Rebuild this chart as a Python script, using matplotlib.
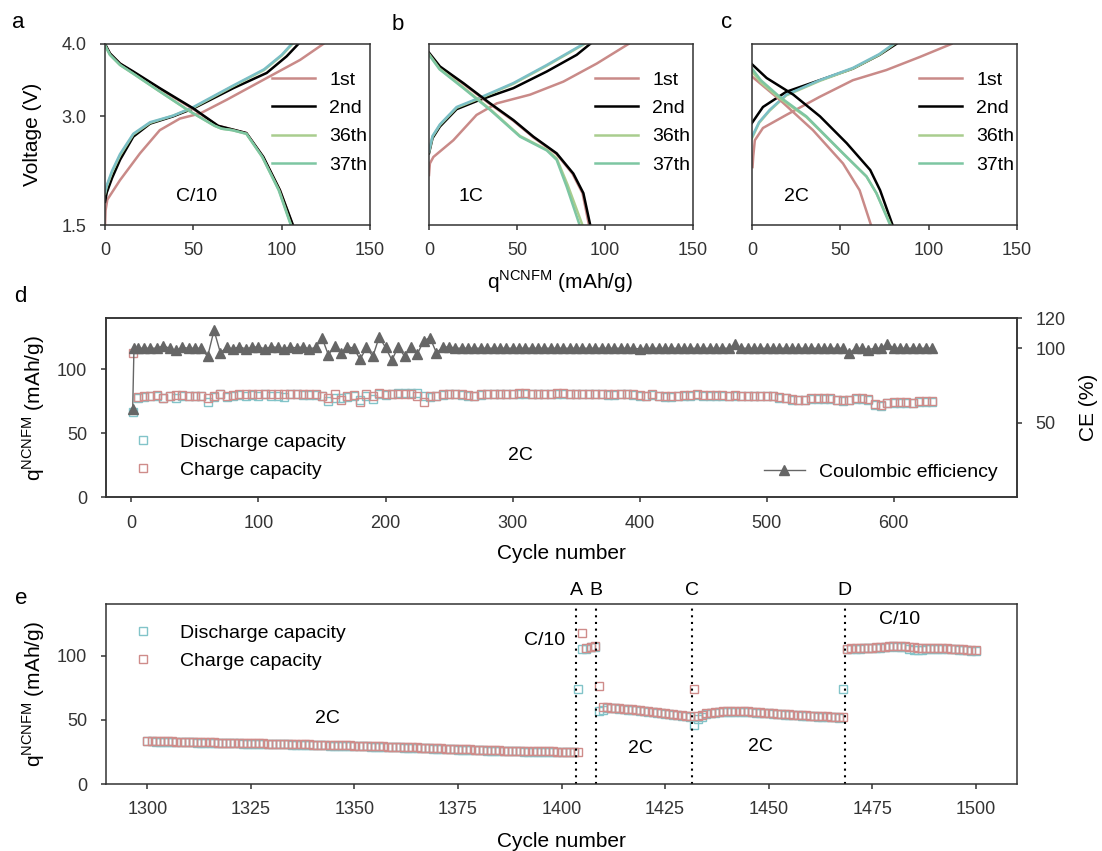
import numpy as np
import matplotlib.pyplot as plt
import matplotlib.transforms as mtransforms

plt.rcParams['font.family'] = ['Liberation Sans', 'DejaVu Sans']
plt.rcParams['axes.edgecolor'] = '#333333'
plt.rcParams['axes.linewidth'] = 1.1
for ax_name in ['xtick', 'ytick']:
    plt.rcParams[ax_name + '.color'] = '#333333'
    plt.rcParams[ax_name + '.labelcolor'] = '#333333'
    plt.rcParams[ax_name + '.labelsize'] = 13
    plt.rcParams[ax_name + '.major.size'] = 3.5
    plt.rcParams[ax_name + '.major.width'] = 1.1
plt.rcParams['xtick.major.pad'] = 9
plt.rcParams['ytick.major.pad'] = 10

# ---------------- data ----------------
cycle_labels = ['1st', '2nd', '36th', '37th']

# panel a, C/10 : discharge / charge curves (q in mAh/g, V)
a_dis_q = [[0, 3, 9, 16, 31, 50, 64, 72, 80, 89.5, 99, 106.0],
           [0, 2.8, 8.5, 16, 31, 50, 64, 72, 80, 89.6, 99, 106.2],
           [0, 2.8, 8.5, 16, 30, 48, 62, 66, 72, 80, 89, 98.5, 105.2],
           [0, 2.8, 8.5, 16, 30, 48, 62, 66, 72, 80, 89, 98.3, 105.0]]
a_dis_v = [[3.99, 3.86, 3.72, 3.61, 3.38, 3.10, 2.87, 2.82, 2.77, 2.44, 1.98, 1.51],
           [4.00, 3.87, 3.73, 3.62, 3.39, 3.11, 2.87, 2.82, 2.77, 2.44, 1.98, 1.51],
           [3.98, 3.85, 3.71, 3.59, 3.36, 3.07, 2.87, 2.83, 2.81, 2.76, 2.44, 1.98, 1.51],
           [3.98, 3.85, 3.71, 3.59, 3.36, 3.07, 2.87, 2.83, 2.81, 2.76, 2.44, 1.98, 1.51]]
a_chg_q = [[0, 0.3, 1.3, 8.5, 19.8, 31, 42.4, 53.8, 68.9, 91.5, 110.4, 123.5],
           [0, 1, 4, 8.5, 16, 25.5, 38.5, 50, 72.6, 91.5, 102.8, 109.4],
           [0, 1, 4, 8.5, 16, 25.5, 38.5, 50, 72, 90, 100, 106.0],
           [0, 1, 4, 8.5, 16, 25.5, 38.5, 50, 72, 90, 100, 105.6]]
a_chg_v = [[1.50, 1.70, 1.85, 2.12, 2.49, 2.81, 2.97, 3.04, 3.23, 3.53, 3.78, 4.00],
           [1.82, 1.95, 2.15, 2.40, 2.72, 2.90, 3.00, 3.11, 3.39, 3.60, 3.83, 4.00],
           [1.93, 2.03, 2.23, 2.46, 2.75, 2.91, 3.01, 3.12, 3.41, 3.64, 3.84, 4.00],
           [1.95, 2.05, 2.25, 2.48, 2.76, 2.92, 3.01, 3.13, 3.42, 3.65, 3.85, 4.00]]

# panel b, 1C
b_dis_q = [[0, 6, 19.5, 34.7, 47.9, 59.3, 72.5, 81.5, 87.2, 90.8],
           [0, 6.2, 19.5, 34.7, 47.9, 59.3, 72.5, 82, 87.7, 91.5],
           [0, 6, 19.5, 34.7, 51.7, 66.9, 72.5, 78.8, 87.0],
           [0, 6, 19.5, 34.7, 51.7, 66.9, 72.5, 78.2, 85.4]]
b_dis_v = [[3.87, 3.68, 3.45, 3.17, 2.94, 2.71, 2.48, 2.21, 1.94, 1.51],
           [3.88, 3.69, 3.46, 3.18, 2.95, 2.72, 2.49, 2.21, 1.94, 1.51],
           [3.86, 3.66, 3.40, 3.10, 2.73, 2.54, 2.42, 2.05, 1.51],
           [3.85, 3.65, 3.39, 3.09, 2.72, 2.53, 2.40, 2.03, 1.51]]
b_chg_q = [[0, 0.5, 2.5, 13.8, 27, 38.5, 57.4, 76.3, 95.3, 113.3],
           [0, 2, 6.2, 15.7, 29, 47.9, 66.9, 83.9, 91.5],
           [0, 2, 6.2, 15.7, 29, 47.9, 66.9, 88.3],
           [0, 2, 6.2, 15.7, 29, 47.9, 66.9, 87.7]]
b_chg_v = [[2.19, 2.35, 2.44, 2.67, 3.02, 3.18, 3.30, 3.48, 3.73, 4.00],
           [2.49, 2.70, 2.86, 3.10, 3.23, 3.39, 3.62, 3.85, 4.00],
           [2.51, 2.72, 2.88, 3.12, 3.25, 3.45, 3.70, 4.00],
           [2.52, 2.73, 2.89, 3.13, 3.26, 3.46, 3.71, 4.00]]

# panel c, 2C
c_dis_q = [[0, 15.7, 34.5, 51.5, 60.9, 67.2],
           [0, 8.3, 23.4, 38.5, 53.6, 66.9, 72.5, 79.4],
           [0, 5, 15.7, 30.8, 51.5, 64.8, 70.4, 78.4],
           [0, 5, 15.7, 30.8, 51.5, 64.8, 70.4, 78.0]]
c_dis_v = [[3.55, 3.23, 2.81, 2.35, 1.98, 1.51],
           [3.72, 3.53, 3.30, 3.00, 2.63, 2.26, 1.98, 1.51],
           [3.62, 3.47, 3.25, 2.99, 2.49, 2.17, 1.94, 1.51],
           [3.66, 3.50, 3.27, 3.00, 2.49, 2.17, 1.94, 1.51]]
c_chg_q = [[0.3, 0.7, 1.6, 6.2, 19.4, 38.3, 57.1, 76, 94.9, 112.8],
           [0, 6.2, 19.4, 38.3, 57.1, 72.2, 81.6],
           [0, 4, 10, 19.4, 38.3, 57.1, 72, 80.5],
           [0, 4, 10, 19.4, 38.3, 57.1, 72, 80.0]]
c_chg_v = [[2.30, 2.45, 2.67, 2.84, 3.02, 3.27, 3.50, 3.64, 3.82, 4.00],
           [2.91, 3.13, 3.34, 3.50, 3.66, 3.85, 4.00],
           [2.70, 2.91, 3.08, 3.29, 3.49, 3.66, 3.85, 4.00],
           [2.72, 2.92, 3.09, 3.30, 3.50, 3.67, 3.86, 4.00]]

# panel d, long cycling at 2C (every 5th cycle)
d_cycles = [1] + list(range(5, 631, 5))
d_charge = [113.0,
            78.5, 79.0, 79.5, 80.0, 77.5, 79.5, 80.0, 80.0, 79.5, 79.5,
            79.5, 77.5, 79.0, 81.0, 79.5, 80.0, 80.5, 80.5, 81.0, 80.5,
            81.0, 80.5, 80.5, 81.0, 80.5, 81.0, 80.5, 80.5, 80.5, 79.5,
            78.0, 80.5, 76.0, 79.5, 80.0, 74.5, 81.0, 79.5, 81.5, 80.5,
            81.0, 81.0, 80.5, 81.0, 79.5, 74.5, 79.0, 79.5, 80.5, 81.0,
            81.0, 80.5, 80.0, 79.5, 80.5, 81.0, 81.0, 81.0, 81.0, 81.0,
            81.5, 81.5, 81.0, 81.0, 81.0, 81.0, 81.5, 81.5, 81.0, 81.0,
            81.0, 81.0, 81.0, 81.0, 80.5, 80.5, 81.0, 81.0, 80.5, 80.0,
            79.5, 80.5, 79.5, 79.0, 79.0, 79.5, 80.0, 80.0, 80.5, 80.0,
            80.0, 80.0, 80.0, 79.5, 80.0, 79.5, 79.5, 79.5, 79.5, 79.5,
            79.5, 78.5, 78.0, 77.0, 76.5, 76.5, 77.5, 77.5, 77.5, 77.5,
            76.5, 76.0, 76.5, 77.5, 77.5, 77.0, 73.0, 72.0, 74.0, 74.5,
            74.5, 74.5, 74.0, 75.0, 75.0, 75.0]
d_discharge = [67.0,
               78.0, 78.5, 79.0, 79.5, 78.0, 79.0, 77.5, 79.5, 79.0, 79.0,
               79.0, 74.5, 78.5, 80.5, 78.5, 79.5, 80.0, 79.0, 80.0, 79.0,
               80.5, 79.5, 79.5, 78.5, 81.0, 81.0, 80.0, 80.0, 80.0, 79.0,
               75.0, 78.0, 77.5, 78.5, 79.5, 76.0, 79.0, 77.0, 80.5, 80.0,
               80.5, 82.0, 82.0, 81.5, 82.0, 79.0, 78.5, 79.0, 80.0, 80.5,
               80.5, 80.0, 79.5, 79.0, 80.0, 80.5, 80.5, 80.5, 80.5, 80.5,
               81.0, 81.0, 80.5, 80.5, 80.5, 80.5, 81.0, 81.0, 80.5, 80.5,
               80.5, 80.5, 80.5, 80.5, 80.0, 80.0, 80.5, 80.5, 80.0, 79.5,
               79.0, 80.0, 79.0, 78.5, 78.5, 79.0, 79.5, 79.5, 80.0, 79.5,
               79.5, 79.5, 79.5, 79.0, 79.5, 79.0, 79.0, 79.0, 79.0, 79.0,
               79.0, 78.0, 77.5, 76.5, 76.0, 76.0, 77.0, 77.0, 77.0, 77.0,
               76.0, 75.5, 76.0, 77.0, 77.0, 76.5, 72.5, 71.5, 73.5, 74.0,
               74.0, 74.0, 73.5, 74.5, 74.5, 74.5]
ce_cycles = [1, 2] + list(range(5, 631, 5))
ce_values = [59.3, 100.0,
             100.0, 100.0, 100.0, 100.0, 101.5, 100.0, 98.5, 100.5, 100.0, 100.0,
             100.0, 94.5, 112.0, 97.0, 100.5, 99.5, 101.0, 99.5, 100.5, 101.0,
             99.5, 101.0, 100.5, 99.5, 101.0, 100.0, 101.0, 99.5, 100.5, 107.0,
             95.5, 101.5, 97.0, 101.0, 100.0, 92.5, 100.5, 94.5, 107.5, 100.5,
             92.0, 101.0, 94.5, 101.0, 96.0, 105.0, 107.0, 97.0, 100.5, 101.0,
             100.0, 100.0, 100.0, 100.0, 100.0, 100.0, 100.0, 100.0, 100.0, 100.0,
             100.0, 100.0, 100.0, 100.0, 100.0, 100.0, 100.0, 100.0, 100.0, 100.0,
             100.0, 100.0, 100.0, 100.0, 100.0, 100.0, 100.0, 100.0, 100.0, 99.5,
             100.0, 100.0, 100.0, 100.0, 100.0, 100.0, 100.0, 100.0, 100.0, 100.0,
             100.0, 100.0, 100.0, 100.0, 102.5, 100.0, 100.0, 100.0, 100.0, 100.0,
             100.0, 100.0, 100.0, 100.0, 100.0, 100.0, 100.0, 100.0, 100.0, 100.0,
             100.0, 100.0, 97.0, 100.0, 100.0, 99.0, 100.0, 100.0, 103.0, 100.0,
             100.0, 100.0, 100.0, 100.0, 100.0, 100.0]

# panel e, rate switching (every cycle 1300-1500)
e_cycles = list(range(1300, 1501))
e_charge = [
    # 1300-1403, 2C
    33.7, 33.6, 33.5, 33.4, 33.3, 33.2, 33.2, 33.1, 33.0, 32.9,
    32.8, 32.8, 32.7, 32.6, 32.5, 32.5, 32.4, 32.3, 32.3, 32.2,
    32.1, 32.1, 32.0, 31.9, 31.9, 31.8, 31.7, 31.7, 31.6, 31.5,
    31.5, 31.4, 31.3, 31.3, 31.2, 31.1, 31.0, 31.0, 30.9, 30.8,
    30.7, 30.7, 30.6, 30.5, 30.4, 30.4, 30.3, 30.2, 30.1, 30.1,
    30.0, 29.9, 29.8, 29.7, 29.6, 29.5, 29.4, 29.3, 29.2, 29.1,
    29.0, 28.9, 28.8, 28.7, 28.6, 28.5, 28.4, 28.2, 28.1, 28.0,
    27.9, 27.8, 27.6, 27.5, 27.4, 27.2, 27.1, 27.0, 26.9, 26.8,
    26.7, 26.6, 26.5, 26.4, 26.3, 26.2, 26.1, 26.0, 25.9, 25.9,
    25.8, 25.7, 25.7, 25.6, 25.6, 25.5, 25.5, 25.4, 25.4, 25.3,
    25.3, 25.3, 25.2, 25.2,
    # 1404-1409
    25.2, 117.5, 106.2, 107.0, 107.6, 76.2,
    # 1410-1431, 2C
    59.8, 59.7, 59.5, 59.3, 59.0, 58.7, 58.4, 58.1, 57.8, 57.4,
    57.0, 56.6, 56.2, 55.8, 55.4, 55.0, 54.6, 54.2, 53.8, 53.4,
    53.0, 52.7,
    # 1432-1434
    74.4, 52.7, 53.8,
    # 1435-1467, 2C
    55.0, 55.6, 56.0, 56.3, 56.5, 56.6, 56.7, 56.7, 56.7, 56.6,
    56.5, 56.3, 56.1, 55.9, 55.6, 55.4, 55.1, 54.9, 54.6, 54.4,
    54.2, 54.0, 53.8, 53.6, 53.4, 53.2, 53.0, 52.9, 52.7, 52.6,
    52.4, 52.3, 52.2,
    # 1468
    52.1,
    # 1469-1500, C/10
    105.5, 105.7, 105.8, 105.9, 106.0, 106.1, 106.2, 106.4, 106.6, 107.0,
    107.4, 107.6, 107.5, 107.4, 107.2, 107.0, 106.6, 106.3, 106.1, 106.0,
    106.0, 105.9, 105.8, 105.7, 105.6, 105.5, 105.3, 105.1, 104.9, 104.6,
    104.3, 104.1]
e_discharge = [
    33.3, 33.2, 33.1, 33.0, 32.9, 32.8, 32.8, 32.7, 32.6, 32.5,
    32.4, 32.4, 32.3, 32.2, 32.1, 32.1, 32.0, 31.9, 31.9, 31.8,
    31.7, 31.7, 31.6, 31.5, 31.5, 31.4, 31.3, 31.3, 31.2, 31.1,
    31.1, 31.0, 30.9, 30.9, 30.8, 30.7, 30.6, 30.6, 30.5, 30.4,
    30.3, 30.3, 30.2, 30.1, 30.0, 30.0, 29.9, 29.8, 29.7, 29.7,
    29.6, 29.5, 29.4, 29.3, 29.2, 29.1, 29.0, 28.9, 28.8, 28.7,
    28.6, 28.5, 28.4, 28.3, 28.2, 28.1, 28.0, 27.8, 27.7, 27.6,
    27.5, 27.4, 27.2, 27.1, 27.0, 26.8, 26.7, 26.6, 26.5, 26.4,
    26.3, 26.2, 26.1, 26.0, 25.9, 25.8, 25.7, 25.6, 25.5, 25.5,
    25.4, 25.3, 25.3, 25.2, 25.2, 25.1, 25.1, 25.0, 25.0, 24.9,
    24.9, 24.9, 24.8, 24.8,
    74.4, 105.0, 105.5, 106.5, 107.0, 56.6,
    58.0, 59.3, 59.1, 58.9, 58.6, 58.3, 58.0, 57.7, 57.4, 57.0,
    56.6, 56.2, 55.8, 55.4, 55.0, 54.6, 54.2, 53.8, 53.4, 53.0,
    52.6, 52.3,
    45.7, 51.0, 52.5,
    54.5, 55.2, 55.6, 55.9, 56.1, 56.2, 56.3, 56.3, 56.3, 56.2,
    56.1, 55.9, 55.7, 55.5, 55.2, 55.0, 54.7, 54.5, 54.2, 54.0,
    53.8, 53.6, 53.4, 53.2, 53.0, 52.8, 52.6, 52.5, 52.3, 52.2,
    52.0, 51.9, 51.8,
    74.4,
    105.1, 105.3, 105.4, 105.5, 105.6, 105.7, 105.8, 106.0, 106.2, 106.6,
    107.0, 107.2, 107.1, 107.0, 106.6, 105.5, 104.4, 104.2, 104.3, 104.8,
    105.5, 105.4, 105.3, 105.2, 105.1, 105.0, 104.8, 104.6, 104.4, 104.1,
    103.8, 103.6]
switch_cycles = [1403.5, 1408.3, 1431.4, 1468.4]
switch_labels = ['A', 'B', 'C', 'D']

# colours
dis_colors = ['#c98a88', 'black', '#a9cd8e', '#7dc6a2']
chg_colors = ['#c98a88', 'black', '#a9cd8e', '#7bbfc6']
cap_teal = '#82c4c9'
cap_red = '#cf8c8a'
ce_gray = '#666666'

qlabel = r'q$^\mathregular{NCNFM}$ (mAh/g)'

fig = plt.figure(figsize=(11.02, 8.51), dpi=100)


def voltage_panel(rect, dis_q, dis_v, chg_q, chg_v, rate, rate_q, first=False):
    ax = fig.add_axes(rect)
    for i in range(4):
        ax.plot(chg_q[i], chg_v[i], color=chg_colors[i], lw=1.8)
    lines = []
    for i in range(4):
        ln, = ax.plot(dis_q[i], dis_v[i], color=dis_colors[i], lw=1.8, label=cycle_labels[i])
        lines.append(ln)
    ax.set_xlim(0, 150)
    ax.set_ylim(1.5, 4.0)
    ax.set_xticks([0, 50, 100, 150])
    if first:
        ax.set_yticks([1.5, 3.0, 4.0])
        ax.set_yticklabels(['1.5', '3.0', '4.0'])
        ax.set_ylabel('Voltage (V)', fontsize=15, labelpad=14)
    else:
        ax.set_yticks([])
    ax.text(rate_q, 1.89, rate, ha='center', va='center', fontsize=14)
    ax.legend(handles=lines, loc='upper right', bbox_to_anchor=(0.99, 0.85), frameon=False,
              fontsize=14, handlelength=2.2, handletextpad=0.75, labelspacing=0.55,
              borderpad=0, borderaxespad=0)
    return ax


voltage_panel([0.0953, 0.7356, 0.2405, 0.2127], a_dis_q, a_dis_v, a_chg_q, a_chg_v, 'C/10', 52, first=True)
voltage_panel([0.3893, 0.7356, 0.2396, 0.2127], b_dis_q, b_dis_v, b_chg_q, b_chg_v, '1C', 24)
voltage_panel([0.6824, 0.7356, 0.2405, 0.2127], c_dis_q, c_dis_v, c_chg_q, c_chg_v, '2C', 25)
fig.text(560 / 1102, 1 - 282 / 851, qlabel, ha='center', va='center', fontsize=15)

# ---- panel d ----
ax_d = fig.add_axes([0.0962, 0.4156, 0.8267, 0.2103])
h_dis, = ax_d.plot(d_cycles, d_discharge, ls='none', marker='s', ms=5.5, mfc='none',
                   mec=cap_teal, mew=1.0)
h_chg, = ax_d.plot(d_cycles, d_charge, ls='none', marker='s', ms=5.5, mfc='none',
                   mec=cap_red, mew=1.0)
ax_d.set_xlim(-20, 697)
ax_d.set_ylim(0, 140)
ax_d.set_xticks(range(0, 601, 100))
ax_d.set_yticks([0, 50, 100])
ax_d.set_xlabel('Cycle number', fontsize=15, labelpad=9)
ax_d.set_ylabel(qlabel, fontsize=15, labelpad=7)
ax_d.text(306, 32.5, '2C', ha='center', va='center', fontsize=14)
ax_d.legend([h_dis, h_chg], ['Discharge capacity', 'Charge capacity'], loc='upper left',
            bbox_to_anchor=(0.019, 0.36), frameon=False, fontsize=14, handlelength=2,
            handletextpad=0.9, labelspacing=0.55, borderpad=0, borderaxespad=0)

ax_d2 = ax_d.twinx()
h_ce, = ax_d2.plot(ce_cycles, ce_values, color=ce_gray, lw=1.0, marker='^', ms=6.5,
                   mec=ce_gray, mfc=ce_gray)
ax_d2.set_ylim(0, 120)
ax_d2.set_yticks([50, 100, 120])
ax_d2.set_ylabel('CE (%)', fontsize=15, labelpad=9)
ax_d2.legend([h_ce], ['Coulombic efficiency'], loc='lower right', bbox_to_anchor=(0.979, 0.09),
             frameon=False, fontsize=14, handlelength=2.1, handletextpad=0.75,
             borderpad=0, borderaxespad=0)

# ---- panel e ----
ax_e = fig.add_axes([0.0962, 0.0787, 0.8267, 0.2112])
h_dis_e, = ax_e.plot(e_cycles, e_discharge, ls='none', marker='s', ms=5.5, mfc='none',
                     mec=cap_teal, mew=1.0)
h_chg_e, = ax_e.plot(e_cycles, e_charge, ls='none', marker='s', ms=5.5, mfc='none',
                     mec=cap_red, mew=1.0)
trans = mtransforms.blended_transform_factory(ax_e.transData, ax_e.transAxes)
for xc, lab in zip(switch_cycles, switch_labels):
    ax_e.axvline(xc, color='black', lw=1.5, ls=(0, (1, 2.2)))
    ax_e.text(xc, 1.075, lab, transform=trans, ha='center', va='center', fontsize=14)
ax_e.set_xlim(1290, 1510)
ax_e.set_ylim(0, 140)
ax_e.set_xticks(range(1300, 1501, 25))
ax_e.set_yticks([0, 50, 100])
ax_e.set_xlabel('Cycle number', fontsize=15, labelpad=10)
ax_e.set_ylabel(qlabel, fontsize=15, labelpad=7)
ax_e.text(1343.5, 51.4, '2C', ha='center', va='center', fontsize=14)
ax_e.text(1396, 112, 'C/10', ha='center', va='center', fontsize=14)
ax_e.text(1419, 28, '2C', ha='center', va='center', fontsize=14)
ax_e.text(1448, 29.2, '2C', ha='center', va='center', fontsize=14)
ax_e.text(1481.6, 128.4, 'C/10', ha='center', va='center', fontsize=14)
ax_e.legend([h_dis_e, h_chg_e], ['Discharge capacity', 'Charge capacity'], loc='upper left',
            bbox_to_anchor=(0.019, 0.89), frameon=False, fontsize=14, handlelength=2,
            handletextpad=0.9, labelspacing=0.55, borderpad=0, borderaxespad=0)

# panel letters
for lab, px, py in [('a', 18, 23), ('b', 398, 25), ('c', 727, 22), ('d', 20, 297), ('e', 21, 599)]:
    fig.text(px / 1102, 1 - py / 851, lab, ha='center', va='center', fontsize=16)

fig.savefig('out.png', dpi=100)
